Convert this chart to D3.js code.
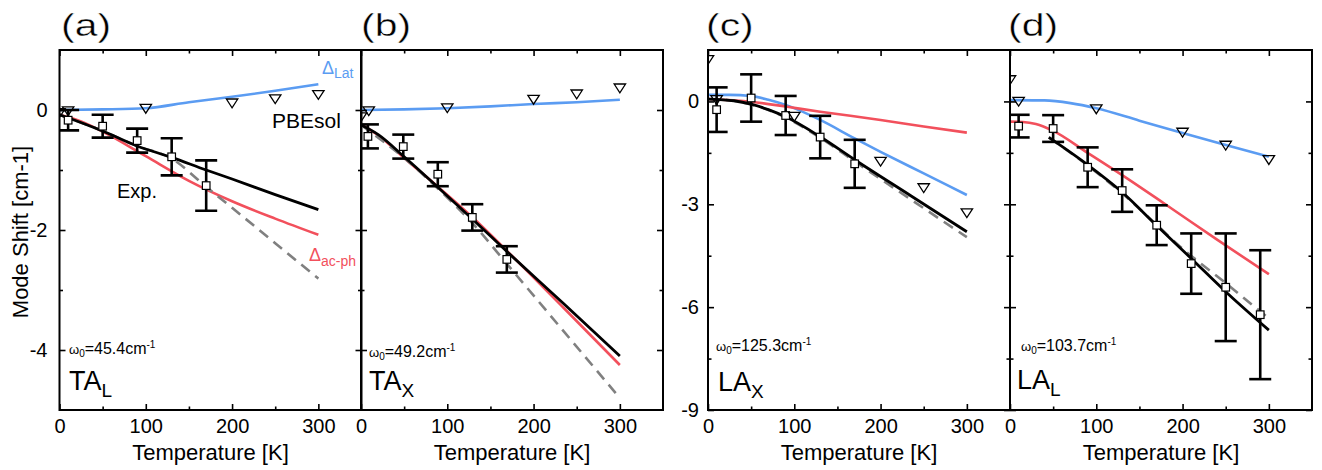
<!DOCTYPE html>
<html><head><meta charset="utf-8">
<script src="https://cdn.jsdelivr.net/npm/d3@7"></script>
<style>
body{margin:0;background:#fff}
svg{display:block}
text{font-family:Arial,"Liberation Sans",sans-serif}
</style>
</head><body>
<svg id="chart" width="1322" height="470"></svg>
<script>
// ---------- tick labels ----------
const tempTicks = [0, 100, 200, 300];
const tempMinor = [50, 150, 250];
const taShiftTicks = [-4, -2, 0];
const taShiftMinor = [-3, -1];
const laShiftTicks = [-9, -6, -3, 0];
const laShiftMinor = [-7.5, -4.5, -1.5];

// ---------- (a) TA_L ----------
const expT_a = [10, 50, 90, 130, 170];
const exp_a = [-0.17, -0.27, -0.51, -0.78, -1.26];
const err_a = [0.17, 0.19, 0.2, 0.31, 0.42];
const pbeT_a = [0, 10, 100, 200, 250, 300];
const pbe_a = [-0.05, -0.02, 0.02, 0.11, 0.18, 0.25];
const lat_a = [[0,0],[50,0.01],[100,0.03],[150,0.13],[200,0.22],[250,0.32],[300,0.43]];
const acph_a = [[0,-0.08],[25,-0.19],[50,-0.36],[100,-0.77],[150,-1.18],[200,-1.52],[250,-1.81],[300,-2.08]];
const fit_a = [[0,-0.08],[50,-0.35],[90,-0.6],[130,-0.79],[170,-1.0],[200,-1.15],[250,-1.41],[300,-1.66]];
const tot_a = [[0,-0.08],[50,-0.35],[90,-0.6],[130,-0.81],[170,-1.28],[200,-1.63],[250,-2.22],[300,-2.81]];

// ---------- (b) TA_X ----------
const expT_b = [8, 49, 89, 129, 169];
const exp_b = [-0.44, -0.61, -1.07, -1.79, -2.49];
const err_b = [0.2, 0.2, 0.2, 0.22, 0.22];
const pbeT_b = [0, 9, 100, 200, 250, 300];
const pbe_b = [-0.12, -0.02, 0.03, 0.17, 0.26, 0.36];
const lat_b = [[0,0],[50,0.01],[100,0.03],[150,0.06],[200,0.1],[250,0.13],[300,0.17]];
const acph_b = [[0,-0.24],[20,-0.42],[50,-0.8],[90,-1.29],[130,-1.8],[170,-2.36],[235,-3.3],[300,-4.25]];
const fit_b = [[0,-0.25],[20,-0.41],[50,-0.78],[90,-1.3],[130,-1.83],[170,-2.37],[235,-3.23],[300,-4.1]];
const tot_b = [[0,-0.25],[50,-0.8],[90,-1.32],[130,-1.9],[170,-2.58],[235,-3.69],[300,-4.8]];

// ---------- (c) LA_X ----------
const expT_c = [10, 50, 90, 130, 170];
const exp_c = [-0.24, 0.1, -0.41, -1.04, -1.82];
const err_c = [0.65, 0.69, 0.57, 0.62, 0.7];
const pbeT_c = [0, 10, 100, 200, 250, 300];
const pbe_c = [1.21, 0.04, -0.45, -1.76, -2.53, -3.26];
const lat_c = [[0,0.19],[25,0.19],[50,0.16],[70,0.05],[90,-0.1],[130,-0.54],[170,-1.08],[200,-1.47],[250,-2.1],[300,-2.73]];
const acph_c = [[0,0.07],[50,-0.01],[90,-0.15],[130,-0.3],[200,-0.54],[250,-0.73],[300,-0.91]];
const fit_c = [[0,0.07],[30,0.02],[50,-0.08],[70,-0.24],[90,-0.45],[130,-1.03],[170,-1.7],[235,-2.75],[300,-3.8]];
const tot_c = [[0,0.07],[30,0.02],[50,-0.09],[70,-0.25],[90,-0.47],[130,-1.06],[170,-1.75],[235,-2.86],[300,-3.96]];

// ---------- (d) LA_L ----------
const expT_d = [10, 50, 90, 130, 170, 210, 250, 290];
const exp_d = [-0.72, -0.79, -1.92, -2.6, -3.61, -4.73, -5.42, -6.22];
const err_d = [0.33, 0.39, 0.58, 0.62, 0.58, 0.88, 1.57, 1.88];
const pbeT_d = [0, 10, 100, 200, 250, 300];
const pbe_d = [0.62, -0.01, -0.23, -0.91, -1.29, -1.71];
const lat_d = [[0,0.04],[40,0.03],[70,-0.05],[100,-0.2],[150,-0.56],[200,-0.92],[250,-1.27],[300,-1.61]];
const acph_d = [[0,-0.59],[15,-0.6],[30,-0.66],[50,-0.86],[90,-1.5],[130,-2.15],[180,-3.0],[240,-4.03],[300,-5.04]];
const fit_d = [[45,-1.05],[90,-1.85],[130,-2.65],[170,-3.62],[210,-4.58],[250,-5.55],[300,-6.67]];
const tot_d = [[45,-1.05],[90,-1.87],[130,-2.68],[170,-3.6],[193,-4.14],[250,-5.3],[300,-6.33]];

const BLUE = "#5b9cf2", RED = "#f2505c", GREY = "#808080";
const PW = 302, TOP = 50, BOT = 410;

const panels = [
  {x0:59.5, yDom:[-5,1], yMaj:taShiftTicks, yMin:taShiftMinor, yLab:true, pad:12,
   letter:"(a)", lx:61, mode:["TA","L"], mx:69, my:390, w0:"45.4", wx:69, wy:354,
   eT:expT_a, ev:exp_a, ee:err_a, pT:pbeT_a, pv:pbe_a, lat:lat_a, acph:acph_a, fit:fit_a, tot:tot_a},
  {x0:361, yDom:[-5,1], yMaj:taShiftTicks, yMin:taShiftMinor, yLab:false, pad:12,
   letter:"(b)", lx:361, mode:["TA","X"], mx:369, my:390, w0:"49.2", wx:369, wy:357,
   eT:expT_b, ev:exp_b, ee:err_b, pT:pbeT_b, pv:pbe_b, lat:lat_b, acph:acph_b, fit:fit_b, tot:tot_b},
  {x0:708, yDom:[-9,1.5], yMaj:laShiftTicks, yMin:laShiftMinor, yLab:true, pad:9,
   letter:"(c)", lx:706, mode:["LA","X"], mx:718, my:391, w0:"125.3", wx:716, wy:351,
   eT:expT_c, ev:exp_c, ee:err_c, pT:pbeT_c, pv:pbe_c, lat:lat_c, acph:acph_c, fit:fit_c, tot:tot_c},
  {x0:1010, yDom:[-9,1.5], yMaj:laShiftTicks, yMin:laShiftMinor, yLab:false, pad:9,
   letter:"(d)", lx:1008, mode:["LA","L"], mx:1017, my:389, w0:"103.7", wx:1021, wy:351,
   eT:expT_d, ev:exp_d, ee:err_d, pT:pbeT_d, pv:pbe_d, lat:lat_d, acph:acph_d, fit:fit_d, tot:tot_d}
];

const svg = d3.select("#chart");
const defs = svg.append("defs");

panels.forEach((p, i) => {
  const x = d3.scaleLinear().domain([0, 350]).range([p.x0, p.x0 + PW]);
  const y = d3.scaleLinear().domain(p.yDom).range([BOT, TOP]);
  const g = svg.append("g");

  defs.append("clipPath").attr("id", "clip" + i)
    .append("rect").attr("x", p.x0).attr("y", TOP).attr("width", PW).attr("height", BOT - TOP);
  const plot = g.append("g").attr("clip-path", `url(#clip${i})`);

  const line = d3.line().x(d => x(d[0])).y(d => y(d[1])).curve(d3.curveMonotoneX);

  plot.append("path").datum(p.lat).attr("d", line).attr("fill", "none")
    .attr("stroke", BLUE).attr("stroke-width", 2.6);
  plot.append("path").datum(p.acph).attr("d", line).attr("fill", "none")
    .attr("stroke", RED).attr("stroke-width", 2.6);
  plot.append("path").datum(p.tot).attr("d", line).attr("fill", "none")
    .attr("stroke", GREY).attr("stroke-width", 2.6).attr("stroke-dasharray", "11,7");
  plot.append("path").datum(p.fit).attr("d", line).attr("fill", "none")
    .attr("stroke", "#000").attr("stroke-width", 2.8);

  // error bars
  const exp = p.eT.map((t, k) => ({t, v: p.ev[k], e: p.ee[k]}));
  const eb = plot.append("g").attr("stroke", "#000").attr("stroke-width", 2.6);
  exp.forEach(d => {
    const cx = x(d.t);
    eb.append("line").attr("x1", cx).attr("x2", cx).attr("y1", y(d.v + d.e)).attr("y2", y(d.v - d.e));
    eb.append("line").attr("x1", cx - 11).attr("x2", cx + 11).attr("y1", y(d.v + d.e)).attr("y2", y(d.v + d.e));
    eb.append("line").attr("x1", cx - 11).attr("x2", cx + 11).attr("y1", y(d.v - d.e)).attr("y2", y(d.v - d.e));
  });
  plot.selectAll(".sq").data(exp).enter().append("rect")
    .attr("x", d => x(d.t) - 3.8).attr("y", d => y(d.v) - 3.8)
    .attr("width", 7.6).attr("height", 7.6)
    .attr("fill", "#fff").attr("stroke", "#000").attr("stroke-width", 1.2);

  // PBEsol triangles
  const pbe = p.pT.map((t, k) => ({t, v: p.pv[k]}));
  plot.selectAll(".tri").data(pbe).enter().append("path")
    .attr("d", d => `M${x(d.t) - 5.7},${y(d.v) - 4.4}L${x(d.t) + 5.7},${y(d.v) - 4.4}L${x(d.t)},${y(d.v) + 4.4}Z`)
    .attr("fill", "none").attr("stroke", "#000").attr("stroke-width", 1.3);

  // axes
  const style = sel => {
    sel.select(".domain").remove();
    sel.selectAll(".tick line").attr("stroke-width", 1.6);
    sel.attr("font-size", 20).attr("font-family", "Arial, 'Liberation Sans', sans-serif");
  };
  g.append("g").attr("transform", `translate(0,${BOT})`)
    .call(d3.axisBottom(x).tickValues(tempTicks).tickSize(-6).tickPadding(9).tickFormat(d3.format("d"))).call(style);
  g.append("g").attr("transform", `translate(0,${BOT})`)
    .call(d3.axisBottom(x).tickValues(tempMinor).tickSize(-3.5).tickFormat("")).call(style);
  g.append("g").attr("transform", `translate(0,${TOP})`)
    .call(d3.axisTop(x).tickValues(tempTicks).tickSize(-6).tickFormat("")).call(style);
  g.append("g").attr("transform", `translate(0,${TOP})`)
    .call(d3.axisTop(x).tickValues(tempMinor).tickSize(-3.5).tickFormat("")).call(style);
  g.append("g").attr("transform", `translate(${p.x0},0)`)
    .call(d3.axisLeft(y).tickValues(p.yMaj).tickSize(-6).tickPadding(p.pad)
      .tickFormat(p.yLab ? d3.format("d") : "")).call(style);
  g.append("g").attr("transform", `translate(${p.x0},0)`)
    .call(d3.axisLeft(y).tickValues(p.yMin).tickSize(-3.5).tickFormat("")).call(style);
  g.append("g").attr("transform", `translate(${p.x0 + PW},0)`)
    .call(d3.axisRight(y).tickValues(p.yMaj).tickSize(-6).tickFormat("")).call(style);
  g.append("g").attr("transform", `translate(${p.x0 + PW},0)`)
    .call(d3.axisRight(y).tickValues(p.yMin).tickSize(-3.5).tickFormat("")).call(style);
  g.selectAll(".tick text").text(function(){ return this.textContent.replace("\u2212", "-"); });

  g.append("rect").attr("x", p.x0).attr("y", TOP).attr("width", PW).attr("height", BOT - TOP)
    .attr("fill", "none").attr("stroke", "#000").attr("stroke-width", 2);

  // x axis title
  g.append("text").attr("x", p.x0 + PW / 2).attr("y", 460).attr("text-anchor", "middle")
    .attr("font-size", 22).text("Temperature [K]");

  // panel letter (wide, regular weight)
  g.append("text").attr("transform", `translate(${p.lx},36) scale(1.32,1)`)
    .attr("font-size", 31).attr("stroke", "#fff").attr("stroke-width", 0.4)
    .attr("paint-order", "fill").text(p.letter);

  // mode label
  const m = g.append("text").attr("x", p.mx).attr("y", p.my).attr("font-size", 27);
  m.append("tspan").text(p.mode[0]);
  m.append("tspan").attr("font-size", 19).attr("dy", 7).text(p.mode[1]);

  // omega label
  const w = g.append("text").attr("x", p.wx).attr("y", p.wy).attr("font-size", 16);
  w.append("tspan").attr("font-size", 13).text("ω");
  w.append("tspan").attr("font-size", 10).attr("dy", 3).text("0");
  w.append("tspan").attr("dy", -3).text("=" + p.w0 + "cm");
  w.append("tspan").attr("font-size", 10).attr("dy", -6).text("-1");
});

// y axis title
svg.append("text").attr("transform", "translate(28,232) rotate(-90)")
  .attr("text-anchor", "middle").attr("font-size", 22).text("Mode Shift [cm-1]");

// annotations in panel (a)
svg.append("text").attr("x", 117).attr("y", 198).attr("font-size", 20).text("Exp.");
svg.append("text").attr("x", 272).attr("y", 128).attr("font-size", 21).text("PBEsol");
const lat = svg.append("text").attr("x", 322).attr("y", 74).attr("fill", BLUE).attr("font-size", 18);
lat.append("tspan").text("Δ");
lat.append("tspan").attr("font-size", 14).attr("dy", 4).text("Lat");
const ac = svg.append("text").attr("x", 309).attr("y", 261).attr("fill", RED).attr("font-size", 18);
ac.append("tspan").text("Δ");
ac.append("tspan").attr("font-size", 14).attr("dy", 5).text("ac-ph");
</script>
</body></html>
